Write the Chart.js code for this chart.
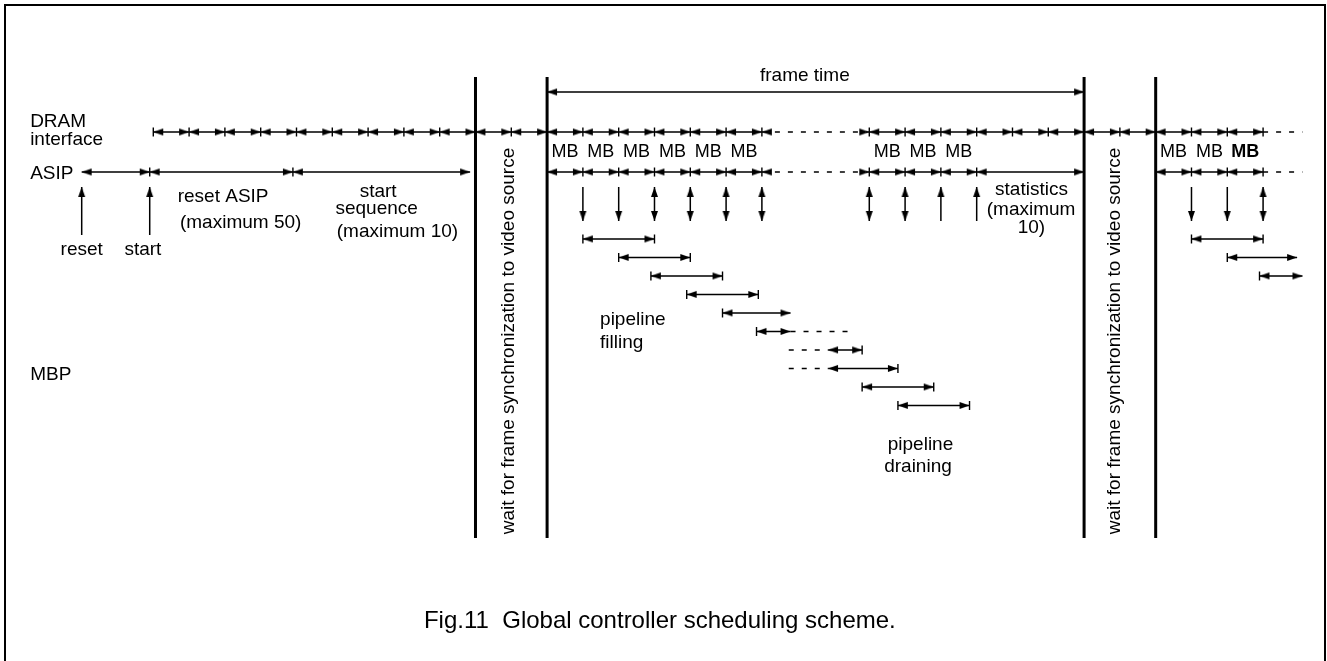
<!DOCTYPE html>
<html>
<head>
<meta charset="utf-8">
<script src="https://cdn.jsdelivr.net/npm/chart.js@4/dist/chart.umd.min.js"></script>
<style>
  html, body { margin: 0; padding: 0; background: #fff; }
  #wrap { position: relative; width: 1327px; height: 661px; overflow: hidden; }
  #frame { position: absolute; left: 4px; top: 4px; width: 1318px; height: 700px; border: 2px solid #000; border-bottom: none; }
  canvas { position: absolute; left: 0; top: 0; }
</style>
</head>
<body>
<div id="wrap"><div id="frame"></div><canvas id="chart" width="1327" height="661"></canvas></div>
<script>
// ---- data (time in DRAM access slots) ----
const dramTicks = [0, 1, 2, 3, 4, 5, 6, 7, 8, 9, 10, 11, 12, 13, 14, 15, 16, 17, 20, 21, 22, 23, 24, 25, 26, 27, 28, 29, 30, 31];
const dramTail = [31, 32.1];

const asipTicks = [-0.1, 3.9, 11, 12, 13, 14, 15, 16, 17, 20, 21, 22, 23, 26, 28, 29, 30, 31];
const asipPhases = [[-2, -0.1], [-0.1, 3.9], [3.9, 8.85], [11, 12], [12, 13], [13, 14], [14, 15], [15, 16], [16, 17],
                    [17, 20], [20, 21], [21, 22], [22, 23], [23, 26], [28, 29], [29, 30], [30, 31]];
const asipTail = [31, 32.1];

const frameSync = [9, 11, 26, 28];     // frame sync walls
const frameTime = [11, 26];

const mbSlots = [11, 12, 13, 14, 15, 16, 20, 21, 22, 28, 29, 30];
const mbBold = [false, false, false, false, false, false, false, false, false, false, false, true];

const xferSlot = [12, 13, 14, 15, 16, 17, 20, 21, 22, 23, 29, 30, 31];
const xferDir = ['down', 'down', 'both', 'both', 'both', 'both', 'both', 'both', 'up', 'up', 'down', 'down', 'both'];

const ctrlSlot = [-2, -0.1];

// MBP pipeline stages
const mbpFrom = [12, 13, 13.9, 14.9, 15.9, 16.85, 18.85, 18.85, 19.8, 20.8, 29, 30, 30.9];
const mbpTo = [14, 15, 15.9, 16.9, 17.8, 17.8, 19.8, 20.8, 21.8, 22.8, 31, 31.95, 32.1];
const mbpRow = [0, 1, 2, 3, 4, 5, 6, 7, 8, 9, 0, 1, 2];
const mbpFromTick = [true, true, true, true, true, true, false, false, true, true, true, true, true];
const mbpToTick = [true, true, true, true, false, false, true, true, true, true, true, false, false];
const mbpDashes = [[5, 17.8, 19.5], [6, 17.75, 18.85], [7, 17.75, 18.85]];

// ---- layout (pixel rows) ----
const Y_TOP = 77, Y_BOT = 538, Y_FRAME = 92, Y_DRAM = 132, Y_ASIP = 172;
const Y_XFER = [187, 221], Y_CTRL = [187, 235];
const FONT = '"Liberation Sans", Arial, sans-serif';

const texts = [
  { t: -3.44, y: 127, s: 'DRAM', a: 'left' },
  { t: -3.44, y: 145, s: 'interface', a: 'left' },
  { t: -3.44, y: 179, s: 'ASIP', a: 'left' },
  { t: -3.44, y: 380, s: 'MBP', a: 'left' },
  { t: -2.0, y: 255, s: 'reset' },
  { t: -0.29, y: 255, s: 'start' },
  { t: 1.95, y: 202, s: 'reset ASIP' },
  { t: 2.44, y: 228, s: '(maximum 50)' },
  { t: 6.28, y: 197, s: 'start' },
  { t: 6.24, y: 214, s: 'sequence' },
  { t: 6.82, y: 237, s: '(maximum 10)' },
  { t: 18.2, y: 81, s: 'frame time' },
  { t: 24.53, y: 195, s: 'statistics' },
  { t: 24.52, y: 215, s: '(maximum' },
  { t: 24.53, y: 233, s: '10)' },
  { t: 12.48, y: 325, s: 'pipeline', a: 'left' },
  { t: 12.48, y: 348, s: 'filling', a: 'left' },
  { t: 21.43, y: 450, s: 'pipeline' },
  { t: 21.36, y: 472, s: 'draining' },
  { t: 9.94, y: 341, s: 'wait for frame synchronization to video source', rot: true },
  { t: 26.86, y: 341, s: 'wait for frame synchronization to video source', rot: true },
  { t: 14.15, y: 628, s: 'Fig.11  Global controller scheduling scheme.', size: 24 }
];

// ---- build datasets ----
function arrowHead() {
  const c = document.createElement('canvas');
  c.width = 22; c.height = 9;
  const g = c.getContext('2d');
  g.fillStyle = '#000';
  g.beginPath(); g.moveTo(11, 4.5); g.lineTo(1, 1); g.lineTo(1, 8); g.closePath(); g.fill();
  return c;
}
const head = arrowHead();

const solid = [], dashed = [], walls = [], heads = [], ticks = [];
const mSolid = [], mDashed = [], mHeads = [], mTicks = [];

function seg(list, a, b, y) { list.push({ x: a, y: y }, { x: b, y: y }, { x: b, y: null }); }
function vseg(list, x, y0, y1) { list.push({ x: x, y: y0 }, { x: x, y: y1 }, { x: x, y: null }); }
function both(list, a, b, y) { list.push({ x: a, y: y, rot: 180 }, { x: b, y: y, rot: 0 }); }

// DRAM row
for (let i = 1; i < dramTicks.length; i++) {
  const a = dramTicks[i - 1], b = dramTicks[i];
  seg(b - a > 1 ? dashed : solid, a, b, Y_DRAM);
  both(heads, a, b, Y_DRAM);
}
dramTicks.forEach(t => ticks.push({ x: t, y: Y_DRAM }));
seg(dashed, dramTail[0], dramTail[1], Y_DRAM);

// ASIP row
asipPhases.forEach(([a, b]) => {
  seg(b - a > 2 && a > 10 && a < 20 ? dashed : solid, a, b, Y_ASIP);
  both(heads, a, b, Y_ASIP);
});
asipTicks.forEach(t => ticks.push({ x: t, y: Y_ASIP }));
seg(dashed, asipTail[0], asipTail[1], Y_ASIP);

// frame time
seg(solid, frameTime[0], frameTime[1], Y_FRAME);
both(heads, frameTime[0], frameTime[1], Y_FRAME);

// walls
frameSync.forEach(t => vseg(walls, t, Y_TOP, Y_BOT));

// MB transfers
xferSlot.forEach((t, i) => {
  const d = xferDir[i];
  vseg(solid, t, Y_XFER[0], Y_XFER[1]);
  if (d !== 'down') heads.push({ x: t, y: Y_XFER[0], rot: 270 });
  if (d !== 'up') heads.push({ x: t, y: Y_XFER[1], rot: 90 });
});
// reset / start
ctrlSlot.forEach(t => {
  vseg(solid, t, Y_CTRL[0], Y_CTRL[1]);
  heads.push({ x: t, y: Y_CTRL[0], rot: 270 });
});

// MBP stages
mbpFrom.forEach((a, i) => {
  const b = mbpTo[i], r = mbpRow[i];
  seg(mSolid, a, b, r);
  both(mHeads, a, b, r);
  if (mbpFromTick[i]) mTicks.push({ x: a, y: r });
  if (mbpToTick[i]) mTicks.push({ x: b, y: r });
});
mbpDashes.forEach(([i, a, b]) => seg(mDashed, a, b, mbpRow[i]));

const lineDs = (data, axis, w, dash) => ({
  data: data, yAxisID: axis, showLine: true, spanGaps: false, borderColor: '#000',
  borderWidth: w, borderDash: dash || [], pointRadius: 0, pointHoverRadius: 0, tension: 0
});
const headDs = (data, axis) => ({
  data: data, yAxisID: axis, showLine: false, pointStyle: head, pointRadius: 5, pointHoverRadius: 0,
  pointRotation: ctx => (ctx.raw ? ctx.raw.rot : 0), borderColor: '#000', backgroundColor: '#000'
});
const tickDs = (data, axis) => ({
  data: data, yAxisID: axis, showLine: false, pointStyle: 'line', pointRotation: 90,
  pointRadius: 4.5, pointHoverRadius: 0, pointBorderWidth: 1.4, borderColor: '#000'
});

const textPlugin = {
  id: 'texts',
  afterDatasetsDraw(chart) {
    const c = chart.ctx, xs = chart.scales.x, ys = chart.scales.y;
    c.save();
    c.fillStyle = '#000';
    texts.forEach(o => {
      const x = xs.getPixelForValue(o.t), y = ys.getPixelForValue(o.y);
      c.font = (o.size || 19) + 'px ' + FONT;
      if (o.rot) {
        c.save();
        c.translate(x, y);
        c.rotate(-Math.PI / 2);
        c.textAlign = 'center';
        c.textBaseline = 'middle';
        c.fillText(o.s, 0, 0);
        c.restore();
      } else {
        c.textAlign = o.a || 'center';
        c.textBaseline = 'alphabetic';
        c.fillText(o.s, x, y);
      }
    });
    mbSlots.forEach((t, i) => {
      c.font = (mbBold[i] ? 'bold ' : '') + '18px ' + FONT;
      c.textAlign = 'center';
      c.textBaseline = 'alphabetic';
      c.fillText('MB', xs.getPixelForValue(t + 0.5), ys.getPixelForValue(157));
    });
    c.restore();
  }
};

new Chart(document.getElementById('chart'), {
  type: 'scatter',
  data: {
    datasets: [
      lineDs(solid, 'y', 1.5),
      lineDs(dashed, 'y', 1.5, [5, 8]),
      lineDs(walls, 'y', 3),
      headDs(heads, 'y'),
      tickDs(ticks, 'y'),
      lineDs(mSolid, 'yMbp', 1.5),
      lineDs(mDashed, 'yMbp', 1.5, [5, 8]),
      headDs(mHeads, 'yMbp'),
      tickDs(mTicks, 'yMbp')
    ]
  },
  options: {
    responsive: false,
    animation: false,
    events: [],
    layout: { padding: 10 },
    plugins: { legend: { display: false }, tooltip: { enabled: false } },
    scales: {
      x: { type: 'linear', min: -4.0028, max: 32.506, display: false },
      y: { type: 'linear', min: 10, max: 651, reverse: true, display: false },
      yMbp: { type: 'linear', min: -12.378, max: 22.271, reverse: true, display: false }
    }
  },
  plugins: [textPlugin]
});
</script>
</body>
</html>
